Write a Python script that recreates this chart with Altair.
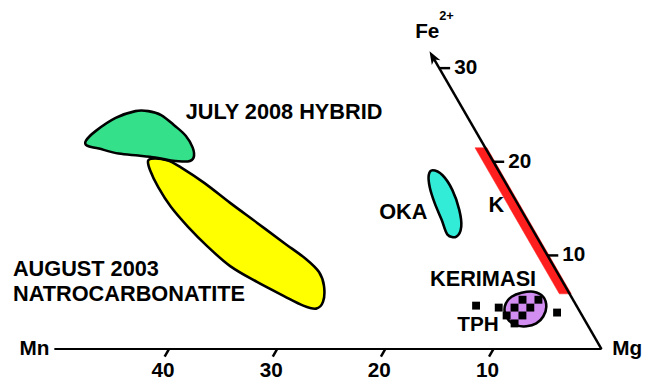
import altair as alt
import pandas as pd

# Ternary compositions: Mn (%) and Fe2+ (%); Mg = 100 - Mn - Fe
hybrid_mn = [36.55, 35.11, 32.59, 30.40, 29.21, 28.23, 27.53, 27.06, 27.05, 27.49, 28.24, 29.75, 31.05, 32.50, 34.22, 35.78, 36.72]
hybrid_fe = [22.25, 23.30, 24.68, 25.41, 25.41, 24.99, 23.83, 22.78, 21.51, 20.46, 20.04, 20.14, 20.46, 20.67, 20.88, 21.41, 21.72]
natro_mn = [31.85, 32.20, 32.35, 32.23, 31.72, 30.96, 29.91, 28.28, 26.56, 25.26, 24.23, 23.22, 22.29, 22.01, 22.51, 23.72, 25.12, 26.54, 27.85, 29.20, 30.02, 31.10]
natro_fe = [20.14, 19.09, 17.29, 15.19, 13.08, 10.97, 8.86, 7.17, 5.69, 4.64, 4.32, 5.06, 6.75, 8.23, 9.60, 11.39, 13.50, 15.61, 17.72, 19.40, 20.14, 20.35]
oka_mn = [6.08, 5.42, 5.30, 5.72, 6.43, 7.41, 8.13, 7.88, 7.63, 7.24, 6.70]
oka_fe = [19.09, 18.56, 16.98, 14.87, 13.08, 12.02, 12.23, 13.81, 15.61, 17.29, 18.56]
kerimasi_mn = [6.43, 5.52, 4.39, 3.24, 2.60, 2.84, 3.65, 4.66, 5.73, 6.58, 7.05, 6.95]
kerimasi_fe = [4.85, 5.59, 6.01, 6.12, 5.59, 4.53, 3.48, 2.74, 2.43, 2.53, 3.06, 4.01]
k_mn = [-0.15, 0.95, 0.95, -0.15]
k_fe = [21.5, 21.5, 5.9, 5.9]
tph_mn = [4.67, 3.20, 7.29, 5.83, 4.37, 6.98, 5.52, 6.67, 9.28, 2.16]
tph_fe = [5.27, 5.27, 4.43, 4.43, 4.43, 3.59, 3.59, 2.74, 4.64, 3.90]

# axes
edge_mn = [50.6, 0.0]
edge_fe = [0.0, 0.0]
edge_mn2 = [0.0, 0.0]
edge_fe2 = [0.0, 31.0]
edge_w = [2.0, 2.5]
mn_ticks = [40, 30, 20, 10]
fe_ticks = [10, 20, 30]
arrow_fe = [31.2]

# labels
lab_c_text = ["JULY 2008 HYBRID", "OKA", "K", "KERIMASI", "TPH", "Fe", "2+"]
lab_c_mn = [16.73, 11.03, 2.06, 7.24, 10.15, -0.81, -3.43]
lab_c_fe = [25.26, 14.61, 15.34, 7.43, 2.53, 33.85, 35.54]
lab_c_size = [22, 22, 22, 22, 21, 21, 13]
lab_l_text = ["AUGUST 2003", "NATROCARBONATITE", "Mg"]
lab_l_mn = [50.19, 51.50, -1.0]
lab_l_fe = [8.49, 5.85, 0.0]
lab_l_size = [22, 22, 21]
lab_r_text = ["Mn"]
lab_r_mn = [51.05]
lab_r_fe = [0.0]
lab_r_size = [21]

FONT = "Liberation Sans"
xs = alt.Scale(domain=[-3.836, 54.886], reverse=True, nice=False, zero=False)
ys = alt.Scale(domain=[-3.196, 31.324], nice=False, zero=False)
CX = "datum.mn + datum.fe / 2"
CY = "datum.fe * sqrt(3) / 2"


def X(f="X"):
    return alt.X(f"{f}:Q", scale=xs, axis=None)


def Y(f="Y"):
    return alt.Y(f"{f}:Q", scale=ys, axis=None)


def tern(df):
    return alt.Chart(df).transform_calculate(X=CX, Y=CY)


def blob(mn, fe, fill, interp="cardinal-closed", stroke="black", sw=2.6):
    df = pd.DataFrame({"mn": mn, "fe": fe, "i": list(range(len(mn)))})
    return tern(df).mark_line(
        interpolate=interp, fill=fill, stroke=stroke, strokeWidth=sw,
        strokeJoin="round", fillOpacity=1
    ).encode(x=X(), y=Y(), order="i:Q")


yellow = blob(natro_mn, natro_fe, "#ffff00")
green = blob(hybrid_mn, hybrid_fe, "#35e08a")
cyan = blob(oka_mn, oka_fe, "#33ecd8")
purple = blob(kerimasi_mn, kerimasi_fe, "#d38ef2")
red = blob(k_mn, k_fe, "#ff1e1e", interp="linear-closed", stroke="#ff1e1e", sw=0.5)

edges_df = pd.DataFrame({"mn": edge_mn, "fe": edge_fe, "mn2": edge_mn2, "fe2": edge_fe2, "w": edge_w})
edges = alt.Chart(edges_df).transform_calculate(
    X=CX, Y=CY, X2="datum.mn2 + datum.fe2 / 2", Y2="datum.fe2 * sqrt(3) / 2"
).mark_rule(color="black").encode(
    x=X(), y=Y(), x2="X2:Q", y2="Y2:Q", strokeWidth=alt.StrokeWidth("w:Q", scale=None)
)

arrow = tern(pd.DataFrame({"mn": [0.0], "fe": arrow_fe})).mark_point(
    shape="M0,-1L0.75,1L0,0.45L-0.75,1Z", filled=True, color="black",
    opacity=1, size=180, angle=330
).encode(x=X(), y=Y())

mt = pd.DataFrame({"m": mn_ticks})
mn_tick_rules = alt.Chart(mt).transform_calculate(
    X="datum.m", Y="0", X2="datum.m + 0.8 - 0.4", Y2="-0.8 * sqrt(3) / 2"
).mark_rule(color="black", strokeWidth=2.5).encode(x=X(), y=Y(), x2="X2:Q", y2="Y2:Q")
mn_tick_labels = alt.Chart(mt).transform_calculate(X="datum.m", Y="0").mark_text(
    font=FONT, fontWeight="bold", fontSize=21, align="center", baseline="middle",
    dx=-6, dy=22, color="black"
).encode(x=X(), y=Y(), text="m:N")

ft = pd.DataFrame({"f": fe_ticks})
fe_tick_rules = alt.Chart(ft).transform_calculate(
    X="datum.f / 2", Y="datum.f * sqrt(3) / 2", X2="-1.0 + datum.f / 2"
).mark_rule(color="black", strokeWidth=2.5).encode(x=X(), y=Y(), x2="X2:Q")
fe_tick_labels = alt.Chart(ft).transform_calculate(
    X="datum.f / 2", Y="datum.f * sqrt(3) / 2"
).mark_text(
    font=FONT, fontWeight="bold", fontSize=21, align="left", baseline="middle",
    dx=15, color="black"
).encode(x=X(), y=Y(), text="f:N")

squares = tern(pd.DataFrame({"mn": tph_mn, "fe": tph_fe})).mark_square(
    size=64, color="black", opacity=1
).encode(x=X(), y=Y())


def labels(texts, mn, fe, align, sizes):
    df = pd.DataFrame({"t": texts, "mn": mn, "fe": fe, "s": sizes})
    return tern(df).mark_text(
        font=FONT, fontWeight="bold", align=align, baseline="middle", color="black"
    ).encode(x=X(), y=Y(), text="t:N", size=alt.Size("s:Q", scale=None))


lab_c = labels(lab_c_text, lab_c_mn, lab_c_fe, "center", lab_c_size)
lab_l = labels(lab_l_text, lab_l_mn, lab_l_fe, "left", lab_l_size)
lab_r = labels(lab_r_text, lab_r_mn, lab_r_fe, "right", lab_r_size)

chart = alt.layer(
    red, edges, arrow, mn_tick_rules, fe_tick_rules,
    yellow, green, cyan, purple, squares,
    mn_tick_labels, fe_tick_labels, lab_c, lab_l, lab_r
).properties(
    width=643, height=378, padding=0, background="white",
    autosize=alt.AutoSizeParams(type="none")
).configure_view(stroke=None)

chart.save("out.html", embed_options={"renderer": "svg", "actions": False})
